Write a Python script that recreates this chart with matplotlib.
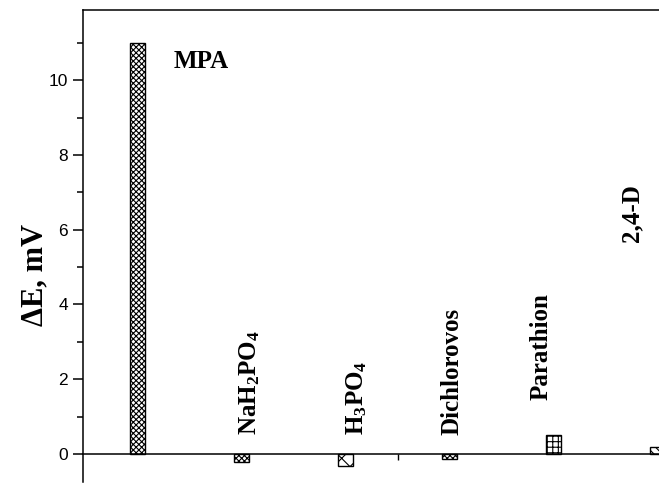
import matplotlib.pyplot as plt

plt.rcParams['hatch.linewidth'] = 0.8
plt.rcParams['mathtext.fontset'] = 'custom'
plt.rcParams['mathtext.rm'] = 'Liberation Serif:bold'
plt.rcParams['mathtext.bf'] = 'Liberation Serif:bold'
plt.rcParams['mathtext.it'] = 'Liberation Serif:bold'

# response of the sensor to each compound
compounds = ['MPA', r'NaH$_2$PO$_4$', r'H$_3$PO$_4$', 'Dichlorovos', 'Parathion', '2,4-D']
delta_e = [11.0, -0.2, -0.32, -0.12, 0.5, 0.19]
hatches = ['xxxxxx', 'xxxxxx', 'xx', 'xxxxxx', '+++', '\\\\\\\\']

# where each name is written (x, y) and its rotation
label_x = [0.35, 1.08, 2.11, 3.02, 3.88, 4.75]
label_y = [10.5, 0.5, 0.5, 0.5, 1.45, 5.67]
label_rot = [0, 90, 90, 90, 90, 90]

fig = plt.figure(figsize=(6.59, 4.86), dpi=100)
ax = fig.add_axes([0.126, 0.008, 0.874, 0.971])

xs = range(len(compounds))
for i in xs:
    ax.bar(i, delta_e[i], width=0.145, color='white', edgecolor='black',
           linewidth=1.0, hatch=hatches[i])

for i in xs:
    if label_rot[i] == 0:
        ax.text(label_x[i], label_y[i], compounds[i], ha='left', va='center',
                fontsize=18, fontweight='bold', family='Liberation Serif')
    else:
        ax.text(label_x[i], label_y[i], compounds[i], ha='center', va='bottom',
                rotation=90, fontsize=18, fontweight='bold', family='Liberation Serif')

ax.set_xlim(-0.52, 5.01)
ax.set_ylim(-0.75, 11.87)

# zero line doubles as the x axis
ax.spines['bottom'].set_position(('data', 0))
ax.spines['right'].set_visible(False)
for s in ['left', 'top', 'bottom']:
    ax.spines[s].set_linewidth(1.1)

ax.set_xticks([2.5])
ax.set_xticklabels([])
ax.tick_params(axis='x', direction='out', length=4, width=1.0)

ax.set_yticks([0, 2, 4, 6, 8, 10])
ax.set_yticks([1, 3, 5, 7, 9, 11], minor=True)
ax.tick_params(axis='y', which='major', direction='out', length=7, width=1.1,
               pad=4, labelsize=12.5)
ax.tick_params(axis='y', which='minor', direction='out', length=4.3, width=1.1)
for t in ax.get_yticklabels():
    t.set_family('Liberation Sans')

ax.set_ylabel('ΔE, mV', fontsize=22, fontweight='bold', family='Liberation Serif')
ax.yaxis.set_label_coords(-0.058, 0.44)

fig.savefig('out.png', dpi=100)
